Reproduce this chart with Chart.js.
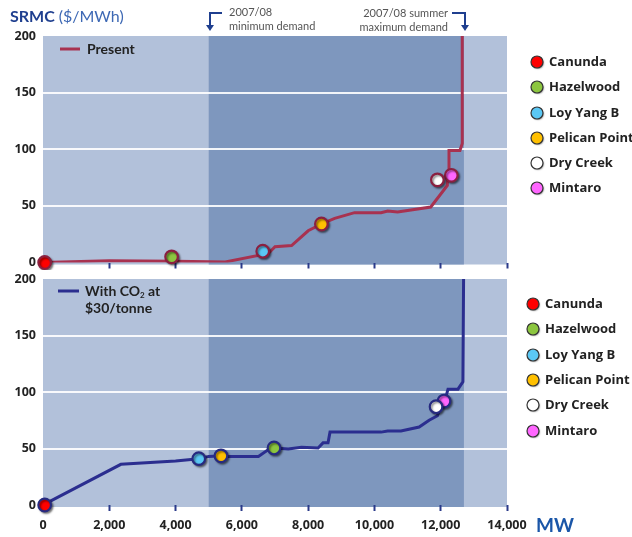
<!DOCTYPE html>
<html>
<head>
<meta charset="utf-8">
<script src="https://cdn.jsdelivr.net/npm/chart.js@4/dist/chart.umd.min.js"></script>
<style>
html,body{margin:0;padding:0;background:#fff;}
#wrap{position:relative;width:632px;height:537px;}
canvas{position:absolute;left:0;}
#c1{top:0;}
#c2{top:270px;}
</style>
</head>
<body>
<div id="wrap">
<canvas id="c1" width="632" height="270"></canvas>
<canvas id="c2" width="632" height="267"></canvas>
</div>
<script>
// ---- data ----
const xTicks = [0, 2000, 4000, 6000, 8000, 10000, 12000, 14000];
const yTicks = [0, 50, 100, 150, 200];
const minDemand = 5000;
const maxDemand = 12700;

const plants = ['Canunda', 'Hazelwood', 'Loy Yang B', 'Pelican Point', 'Dry Creek', 'Mintaro'];
const plantColors = ['#ff0000', '#8cc63f', '#5bc8f5', '#ffc000', '#ffffff', '#ff66ff'];

const presentX = [0, 2000, 4000, 5500, 6800, 7000, 7500, 8000, 8400, 8800, 9400, 10200, 10400, 10700, 11700, 12200, 12200, 12250, 12250, 12580, 12650, 12650];
const presentY = [0, 1.5, 1, 0.5, 8, 14, 15, 28, 34, 39, 44, 44, 45.5, 44.5, 49, 68, 73, 76, 99, 99, 105, 200];
const presentPlantX = [50, 3880, 6630, 8400, 11900, 12320];
const presentPlantY = [0, 5, 10, 34, 73, 77];

const co2X = [0, 2350, 4000, 4700, 5000, 5400, 5600, 6500, 6800, 7000, 7400, 7800, 8300, 8450, 8600, 8660, 10200, 10400, 10800, 11350, 11650, 11900, 12000, 12150, 12220, 12520, 12670, 12690];
const co2Y = [0, 36, 39, 41, 43, 43.5, 43, 43, 49, 50.5, 49.5, 51, 50.5, 55, 55, 64.5, 64.5, 65.5, 65.5, 69, 75, 79, 87, 95, 102.5, 102.5, 109, 200];
const co2PlantX = [50, 6970, 4700, 5370, 11860, 12100];
const co2PlantY = [0, 50.5, 41, 43.5, 87, 92];

// ---- styles ----
const LIGHT = '#b2c1da';
const DARK = '#7e97be';
const FONT = 'Lato, "Open Sans", sans-serif';
const FONT2 = '"Open Sans", Lato, sans-serif';

function bgPlugin() {
  return {
    id: 'bg',
    beforeDraw(chart) {
      const {ctx, chartArea: a, scales: {x}} = chart;
      ctx.save();
      ctx.fillStyle = LIGHT;
      ctx.fillRect(a.left, a.top, a.right - a.left, a.bottom - a.top + 2);
      ctx.fillStyle = DARK;
      const x0 = x.getPixelForValue(minDemand), x1 = x.getPixelForValue(maxDemand);
      ctx.fillRect(x0, a.top, x1 - x0, a.bottom - a.top + 2);
      ctx.restore();
    },
    beforeDatasetDraw(chart, args) {
      if (args.meta.type === 'scatter') {
        const ctx = chart.ctx;
        ctx.save();
        ctx.shadowColor = 'rgba(0,0,0,0.45)';
        ctx.shadowOffsetX = 1.5;
        ctx.shadowOffsetY = 1.5;
        ctx.shadowBlur = 2;
      }
    },
    afterDatasetDraw(chart, args) {
      if (args.meta.type === 'scatter') chart.ctx.restore();
    }
  };
}

function legendPlugin(cx, ys, tx) {
  return {
    id: 'plantLegend',
    afterDraw(chart) {
      const ctx = chart.ctx;
      ctx.save();
      plants.forEach((p, i) => {
        ctx.shadowColor = 'rgba(0,0,0,0.4)';
        ctx.shadowOffsetX = 1; ctx.shadowOffsetY = 1; ctx.shadowBlur = 1.5;
        ctx.beginPath();
        ctx.arc(cx, ys[i], 6, 0, Math.PI * 2);
        ctx.fillStyle = plantColors[i];
        ctx.fill();
        ctx.shadowColor = 'transparent';
        ctx.lineWidth = 1.2;
        ctx.strokeStyle = '#333';
        ctx.stroke();
        ctx.fillStyle = '#222';
        ctx.font = 'bold 13px ' + FONT2;
        ctx.textAlign = 'left';
        ctx.textBaseline = 'middle';
        ctx.fillText(p, tx, ys[i] + 0.5);
      });
      ctx.restore();
    }
  };
}

function arrow(ctx, hx0, hx1, y, vx, tipY) {
  ctx.beginPath();
  ctx.moveTo(hx0, y);
  ctx.lineTo(hx1, y);
  ctx.moveTo(vx, y);
  ctx.lineTo(vx, tipY - 5);
  ctx.stroke();
  ctx.beginPath();
  ctx.moveTo(vx - 4, tipY - 6);
  ctx.lineTo(vx + 4, tipY - 6);
  ctx.lineTo(vx, tipY);
  ctx.closePath();
  ctx.fill();
}

const topAnnot = {
  id: 'topAnnot',
  afterDraw(chart) {
    const ctx = chart.ctx;
    ctx.save();
    ctx.textBaseline = 'middle';
    ctx.textAlign = 'left';
    ctx.font = 'bold 16px ' + FONT;
    ctx.fillStyle = '#1f3f8f';
    ctx.fillText('SRMC', 10, 17);
    const w = ctx.measureText('SRMC ').width;
    ctx.font = '16px ' + FONT;
    ctx.fillStyle = '#3d68b4';
    ctx.fillText('($/MWh)', 10 + w, 17);

    ctx.font = '11px ' + FONT;
    ctx.fillStyle = '#555';
    ctx.fillText('2007/08', 229, 12);
    ctx.fillText('minimum demand', 229, 26);
    ctx.textAlign = 'right';
    ctx.fillText('2007/08 summer', 448, 13);
    ctx.fillText('maximum demand', 448, 27);

    ctx.strokeStyle = '#1f3f8f';
    ctx.fillStyle = '#1f3f8f';
    ctx.lineWidth = 2;
    arrow(ctx, 209, 222, 13, 210, 31);
    arrow(ctx, 452, 466, 13, 465, 31);

    // inner legend
    ctx.strokeStyle = '#a83250';
    ctx.lineWidth = 3;
    ctx.beginPath(); ctx.moveTo(60, 49); ctx.lineTo(80, 49); ctx.stroke();
    ctx.textAlign = 'left';
    ctx.fillStyle = '#222';
    ctx.font = 'bold 14px ' + FONT;
    ctx.fillText('Present', 87, 49);
    ctx.restore();
  }
};

const botAnnot = {
  id: 'botAnnot',
  afterDraw(chart) {
    const ctx = chart.ctx;
    ctx.save();
    ctx.textBaseline = 'middle';
    ctx.strokeStyle = '#2b2e8f';
    ctx.lineWidth = 3;
    ctx.beginPath(); ctx.moveTo(58, 21); ctx.lineTo(79, 21); ctx.stroke();
    ctx.fillStyle = '#222';
    ctx.font = 'bold 14px ' + FONT;
    ctx.textAlign = 'left';
    ctx.fillText('With CO', 85, 21);
    let w = ctx.measureText('With CO').width;
    ctx.font = 'bold 8px ' + FONT;
    ctx.fillText('2', 85 + w, 25);
    const w2 = ctx.measureText('2').width;
    ctx.font = 'bold 14px ' + FONT;
    ctx.fillText(' at', 85 + w + w2, 21);
    ctx.fillText('$30/tonne', 85, 38);

    ctx.font = 'bold 19px ' + FONT;
    ctx.fillStyle = '#1a56a8';
    ctx.fillText('MW', 536, 256);
    ctx.restore();
  }
};

function makeChart(id, lineX, lineY, lineColor, markX, markY, markBorder, padTop, xHeight, showXLabels, legendPl, annot) {
  const datasets = [{
    type: 'line',
    label: 'curve',
    data: lineX.map((v, i) => ({x: v, y: lineY[i]})),
    borderColor: lineColor,
    borderWidth: 3,
    pointRadius: 0,
    tension: 0,
    fill: false,
    order: 2
  }];
  plants.forEach((p, i) => {
    datasets.push({
      type: 'scatter',
      label: p,
      data: [{x: markX[i], y: markY[i]}],
      backgroundColor: plantColors[i],
      borderColor: markBorder,
      borderWidth: 2.2,
      pointRadius: 6.3,
      clip: false,
      order: 1
    });
  });
  return new Chart(document.getElementById(id), {
    data: {datasets},
    options: {
      responsive: false,
      animation: false,
      devicePixelRatio: 1,
      layout: {autoPadding: false, padding: {left: 0, right: 125, top: padTop, bottom: 0}},
      plugins: {legend: {display: false}, tooltip: {enabled: false}},
      scales: {
        x: {
          type: 'linear',
          min: 0, max: 14000,
          afterBuildTicks(s) { s.ticks = xTicks.map(v => ({value: v})); },
          afterFit(s) { s.height = xHeight; },
          border: {display: false},
          grid: {drawOnChartArea: false, drawTicks: true, tickLength: 6, tickColor: '#2b3a8a', tickWidth: 2, offset: false},
          ticks: {
            display: true,
            padding: 7,
            color: showXLabels ? '#222' : 'rgba(0,0,0,0)',
            font: {family: FONT2, size: 12.5, weight: 'bold'},
            callback: v => v.toLocaleString('en-US')
          }
        },
        y: {
          type: 'linear',
          min: 0, max: 200,
          afterBuildTicks(s) { s.ticks = yTicks.map(v => ({value: v})); },
          afterFit(s) { s.width = 43; },
          border: {display: false},
          grid: {
            drawTicks: true,
            tickLength: 7,
            tickColor: 'rgba(0,0,0,0)',
            lineWidth: 2,
            color: c => (c.tick && (c.tick.value === 0 || c.tick.value === 200)) ? 'rgba(0,0,0,0)' : 'rgba(255,255,255,0.9)'
          },
          ticks: {
            padding: 0,
            color: '#222',
            font: {family: FONT2, size: 12.5, weight: 'bold'}
          }
        }
      }
    },
    plugins: [bgPlugin(), legendPl, annot]
  });
}

makeChart('c1', presentX, presentY, '#a83250', presentPlantX, presentPlantY, '#8a2040', 36, 7, false,
  legendPlugin(537, [62, 87, 113, 138, 163, 188], 549), topAnnot);
makeChart('c2', co2X, co2Y, '#2b2e8f', co2PlantX, co2PlantY, '#262a80', 9, 32, true,
  legendPlugin(533, [34, 59, 85, 110, 135, 161], 545), botAnnot);
</script>
</body>
</html>
